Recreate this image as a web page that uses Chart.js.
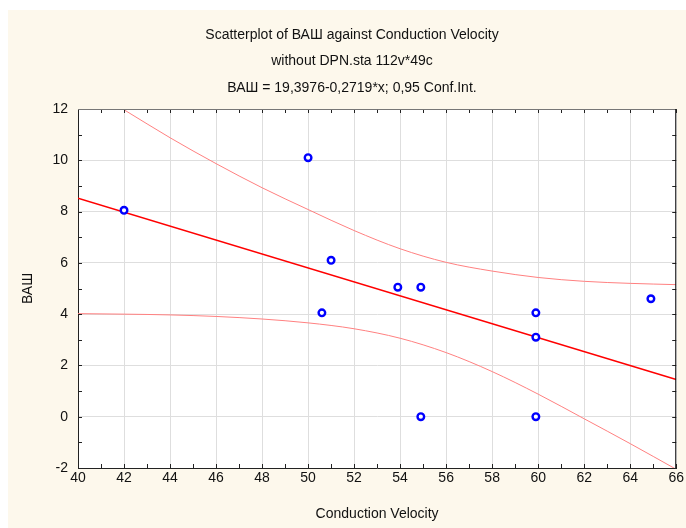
<!DOCTYPE html>
<html>
<head>
<meta charset="utf-8">
<script src="https://cdn.jsdelivr.net/npm/chart.js@4.4.1/dist/chart.umd.min.js"></script>
<style>
  html, body { margin: 0; padding: 0; background: #ffffff; }
  #wrap { width: 686px; height: 528px; }
</style>
</head>
<body>
<div id="wrap"><canvas id="chart" width="686" height="528"></canvas></div>
<script>
// observed points (Conduction Velocity vs ВАШ)
const velocity = [42, 50, 51, 50.6, 53.9, 54.9, 59.9, 59.9, 54.9, 59.9, 64.9];
const vas      = [8.05, 10.1, 6.1, 4.05, 5.05, 5.05, 4.05, 3.1, 0, 0, 4.6];

// regression line ends
const fitX = [40, 66];
const fitY = [8.52, 1.45];

// 0,95 confidence band, read at every 2 units
const bandX     = [40, 42, 44, 46, 48, 50, 52, 54, 56, 58, 60, 62, 64, 66];
const bandUpper = [13.05, 11.97, 10.88, 9.87, 8.93, 8.08, 7.26, 6.55, 6.02, 5.68, 5.43, 5.28, 5.2, 5.15];
const bandLower = [4.02, 4.0, 3.97, 3.91, 3.81, 3.66, 3.43, 3.06, 2.5, 1.76, 0.88, -0.08, -1.05, -2.05];

const titleLines = [
  'Scatterplot of ВАШ against Conduction Velocity',
  'without DPN.sta 112v*49c',
  'ВАШ = 19,3976-0,2719*x; 0,95 Conf.Int.'
];

const FONT = '"Liberation Sans", Arial, sans-serif';

const pts = (xs, ys) => xs.map((x, i) => ({ x, y: ys[i] }));

// background panel, frame, inner minor ticks and the title
const decor = {
  id: 'decor',
  beforeDraw(chart) {
    const { ctx, chartArea: a } = chart;
    ctx.save();
    ctx.fillStyle = '#fdf8ec';
    ctx.fillRect(8, 10, chart.width - 8, chart.height - 10);
    ctx.fillStyle = '#ffffff';
    ctx.fillRect(a.left, a.top, a.right - a.left, a.bottom - a.top);
    ctx.restore();
  },
  afterDraw(chart) {
    const { ctx, chartArea: a, scales } = chart;
    ctx.save();
    ctx.strokeStyle = '#222';
    ctx.lineWidth = 1;
    ctx.beginPath();
    for (let v = 40; v <= 66; v++) {
      const px = Math.round(scales.x.getPixelForValue(v)) + 0.5;
      ctx.moveTo(px, a.top); ctx.lineTo(px, a.top + 4);
      ctx.moveTo(px, a.bottom); ctx.lineTo(px, a.bottom - 4);
    }
    for (let v = -2; v <= 12; v++) {
      const py = Math.round(scales.y.getPixelForValue(v)) + 0.5;
      ctx.moveTo(a.left, py); ctx.lineTo(a.left + 4, py);
      ctx.moveTo(a.right, py); ctx.lineTo(a.right - 4, py);
    }
    ctx.stroke();
    ctx.strokeStyle = '#777';
    ctx.beginPath();
    ctx.moveTo(a.left, a.top + 0.5); ctx.lineTo(a.right, a.top + 0.5);
    ctx.stroke();
    ctx.strokeStyle = '#111';
    ctx.beginPath();
    ctx.moveTo(a.right - 0.5, a.top); ctx.lineTo(a.right - 0.5, a.bottom);
    ctx.stroke();

    ctx.fillStyle = '#111';
    ctx.font = '14px ' + FONT;
    ctx.textAlign = 'center';
    ctx.textBaseline = 'middle';
    titleLines.forEach((t, i) => ctx.fillText(t, 352, 35 + i * 26.5));
    ctx.restore();
  }
};

new Chart(document.getElementById('chart'), {
  type: 'scatter',
  data: {
    datasets: [
      {
        label: 'ВАШ',
        data: pts(velocity, vas),
        pointStyle: 'circle',
        pointRadius: 3.3,
        pointBorderWidth: 2.4,
        pointBorderColor: '#0000ff',
        pointBackgroundColor: '#ffffff',
        showLine: false
      },
      {
        label: 'fit',
        data: pts(fitX, fitY),
        showLine: true,
        borderColor: '#ff0000',
        borderWidth: 1.5,
        pointRadius: 0
      },
      {
        label: 'upper',
        data: pts(bandX, bandUpper),
        showLine: true,
        borderColor: '#ff8080',
        borderWidth: 1,
        pointRadius: 0,
        cubicInterpolationMode: 'monotone'
      },
      {
        label: 'lower',
        data: pts(bandX, bandLower),
        showLine: true,
        borderColor: '#ff8080',
        borderWidth: 1,
        pointRadius: 0,
        cubicInterpolationMode: 'monotone'
      }
    ]
  },
  options: {
    responsive: false,
    animation: false,
    events: [],
    layout: { padding: { left: 8, top: 109, right: 9, bottom: 0 } },
    plugins: {
      legend: { display: false },
      tooltip: { enabled: false },
      title: { display: false }
    },
    scales: {
      x: {
        type: 'linear',
        min: 40, max: 66,
        afterFit: (s) => { s.height = 60; },
        ticks: { stepSize: 2, padding: 2, color: '#111', font: { family: FONT, size: 14 } },
        grid: { color: '#dedede', drawTicks: false },
        border: { color: '#222', width: 1 },
        title: {
          display: true, text: 'Conduction Velocity', color: '#111',
          font: { family: FONT, size: 14 }, padding: { top: 0, bottom: 5 }
        }
      },
      y: {
        type: 'linear',
        min: -2, max: 12,
        afterFit: (s) => { s.width = 70; },
        ticks: { stepSize: 2, padding: 10, color: '#111', font: { family: FONT, size: 14 } },
        grid: { color: '#dedede', drawTicks: false },
        border: { color: '#222', width: 1 },
        title: {
          display: true, text: 'ВАШ', color: '#111',
          font: { family: FONT, size: 14 }, padding: { top: 12, bottom: 0 }
        }
      }
    }
  },
  plugins: [decor]
});
</script>
</body>
</html>
